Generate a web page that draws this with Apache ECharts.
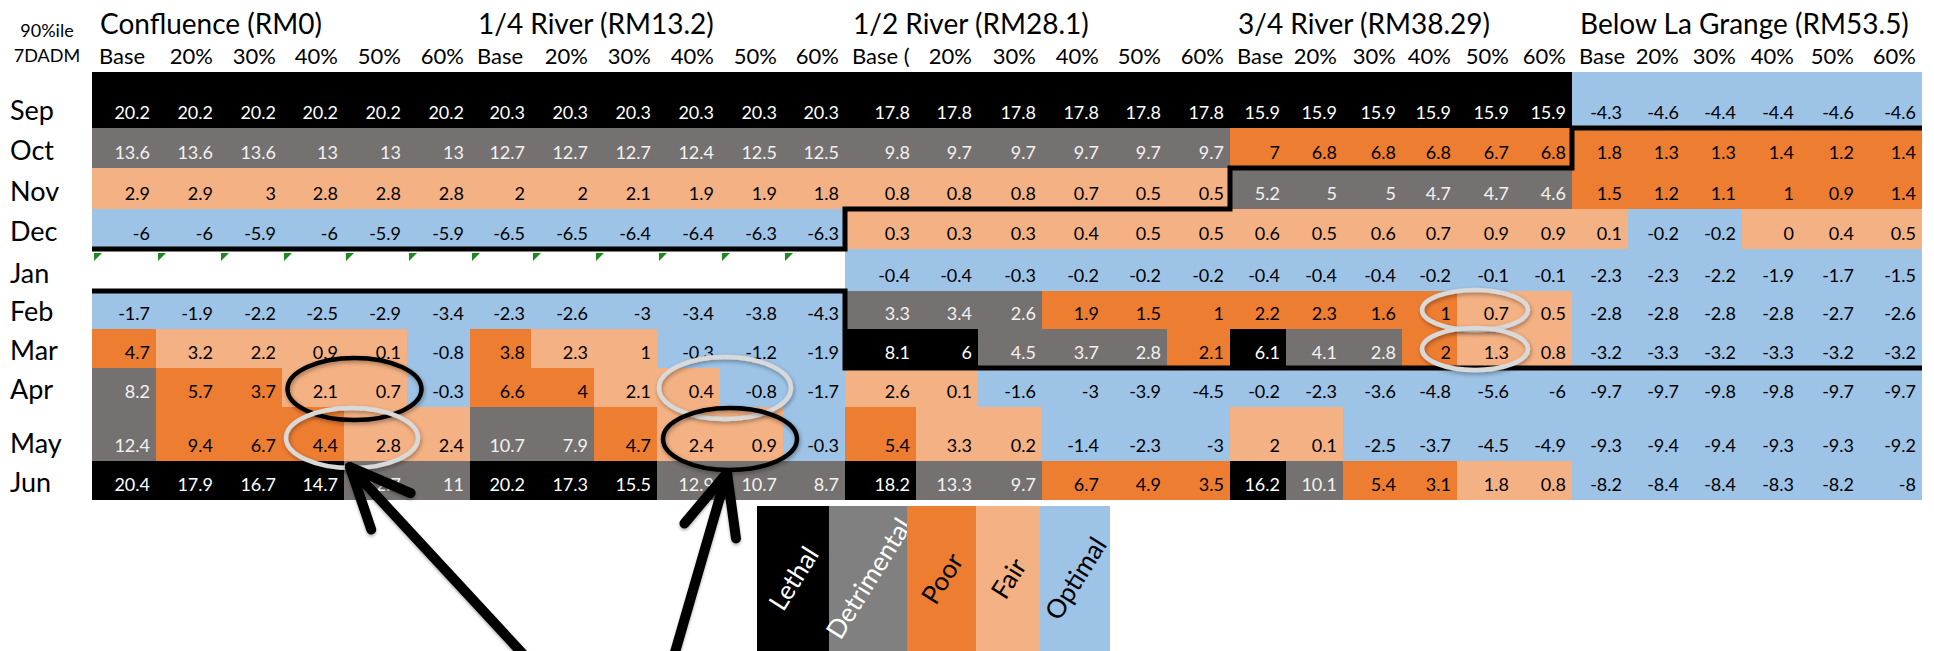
<!DOCTYPE html>
<html><head><meta charset="utf-8">
<script src="https://cdn.jsdelivr.net/npm/echarts@6/dist/echarts.min.js"></script>
<style>html,body{margin:0;padding:0;background:#fff}#chart{width:1934px;height:651px}</style>
</head><body><div id="chart"></div>
<script>
// ---------------- DATA ----------------
const months = ['Sep','Oct','Nov','Dec','Jan','Feb','Mar','Apr','May','Jun'];
const sites = ['Confluence (RM0)','1/4 River (RM13.2)','1/2 River (RM28.1)','3/4 River (RM38.29)','Below La Grange (RM53.5)'];
const scenarios = ['Base','20%','30%','40%','50%','60%'];
const baseHeader = ['Base','Base','Base (','Base','Base'];
const categories = ['Lethal','Detrimental','Poor','Fair','Optimal'];
const categoryKeys = ['L','D','P','F','O'];

// values: 5 sites x 6 scenarios per month
const sep = [20.2,20.2,20.2,20.2,20.2,20.2, 20.3,20.3,20.3,20.3,20.3,20.3, 17.8,17.8,17.8,17.8,17.8,17.8, 15.9,15.9,15.9,15.9,15.9,15.9, -4.3,-4.6,-4.4,-4.4,-4.6,-4.6];
const oct = [13.6,13.6,13.6,13,13,13, 12.7,12.7,12.7,12.4,12.5,12.5, 9.8,9.7,9.7,9.7,9.7,9.7, 7,6.8,6.8,6.8,6.7,6.8, 1.8,1.3,1.3,1.4,1.2,1.4];
const nov = [2.9,2.9,3,2.8,2.8,2.8, 2,2,2.1,1.9,1.9,1.8, 0.8,0.8,0.8,0.7,0.5,0.5, 5.2,5,5,4.7,4.7,4.6, 1.5,1.2,1.1,1,0.9,1.4];
const dec = [-6,-6,-5.9,-6,-5.9,-5.9, -6.5,-6.5,-6.4,-6.4,-6.3,-6.3, 0.3,0.3,0.3,0.4,0.5,0.5, 0.6,0.5,0.6,0.7,0.9,0.9, 0.1,-0.2,-0.2,0,0.4,0.5];
const jan = [null,null,null,null,null,null, null,null,null,null,null,null, -0.4,-0.4,-0.3,-0.2,-0.2,-0.2, -0.4,-0.4,-0.4,-0.2,-0.1,-0.1, -2.3,-2.3,-2.2,-1.9,-1.7,-1.5];
const feb = [-1.7,-1.9,-2.2,-2.5,-2.9,-3.4, -2.3,-2.6,-3,-3.4,-3.8,-4.3, 3.3,3.4,2.6,1.9,1.5,1, 2.2,2.3,1.6,1,0.7,0.5, -2.8,-2.8,-2.8,-2.8,-2.7,-2.6];
const mar = [4.7,3.2,2.2,0.9,0.1,-0.8, 3.8,2.3,1,-0.3,-1.2,-1.9, 8.1,6,4.5,3.7,2.8,2.1, 6.1,4.1,2.8,2,1.3,0.8, -3.2,-3.3,-3.2,-3.3,-3.2,-3.2];
const apr = [8.2,5.7,3.7,2.1,0.7,-0.3, 6.6,4,2.1,0.4,-0.8,-1.7, 2.6,0.1,-1.6,-3,-3.9,-4.5, -0.2,-2.3,-3.6,-4.8,-5.6,-6, -9.7,-9.7,-9.8,-9.8,-9.7,-9.7];
const may = [12.4,9.4,6.7,4.4,2.8,2.4, 10.7,7.9,4.7,2.4,0.9,-0.3, 5.4,3.3,0.2,-1.4,-2.3,-3, 2,0.1,-2.5,-3.7,-4.5,-4.9, -9.3,-9.4,-9.4,-9.3,-9.3,-9.2];
const jun = [20.4,17.9,16.7,14.7,12.7,11, 20.2,17.3,15.5,12.9,10.7,8.7, 18.2,13.3,9.7,6.7,4.9,3.5, 16.2,10.1,5.4,3.1,1.8,0.8, -8.2,-8.4,-8.4,-8.3,-8.2,-8];

// category of each cell (L=Lethal, D=Detrimental, P=Poor, F=Fair, O=Optimal, -=blank)
const catSep = 'LLLLLL LLLLLL LLLLLL LLLLLL OOOOOO';
const catOct = 'DDDDDD DDDDDD DDDDDD PPPPPP PPPPPP';
const catNov = 'FFFFFF FFFFFF FFFFFF DDDDDD PPPPPP';
const catDec = 'OOOOOO OOOOOO FFFFFF FFFFFF FOOFFF';
const catJan = '------ ------ OOOOOO OOOOOO OOOOOO';
const catFeb = 'OOOOOO OOOOOO DDDPPP PPPPFF OOOOOO';
const catMar = 'PFFFFO PFFOOO LLDDDP LDDPFF OOOOOO';
const catApr = 'DPPFFO PPFFOO FFOOOO OOOOOO OOOOOO';
const catMay = 'DPPPFF DDPFFO PFFOOO FFOOOO OOOOOO';
const catJun = 'LLLLDD LLLDDD LDDPPP LDPPFF OOOOOO';

// season boundaries: last row index above each thick line, per site
const fallBoundary = [3,3,2,1,0];
const springBoundary = [4,4,6,6,6];

// ---------------- LAYOUT / STYLE ----------------
const FONT = "Lato, 'Open Sans', sans-serif";
const colWidths = [64,63,63,62,63,63, 61,63,63,63,63,62, 71,62,64,63,62,63, 56,57,59,55,58,57, 56,57,57,58,60,62];
const rowHeights = [56,40,41,40,42,38,39,39,54,39];
const cellColor = {L:'#000000', D:'#767171', P:'#ED7D31', F:'#F4B183', O:'#9DC3E6'};
const legendColor = {L:'#000000', D:'#808080', P:'#ED7D31', F:'#F4B183', O:'#9DC3E6'};
const legendWidths = [72,78,69,64,70];
// annotation rings: row, first col, last col, colour, offsets
const rings = [
  {r:7, c0:3, c1:4, color:'#000000', dx:10, dy:1.5, rx:67, ry:31},
  {r:8, c0:3, c1:4, color:'#D9D9D9', dx:7.5, dy:4, rx:66, ry:30},
  {r:7, c0:9, c1:10, color:'#D9D9D9', dx:5, dy:0.5, rx:66, ry:31},
  {r:8, c0:9, c1:10, color:'#000000', dx:10, dy:5, rx:67, ry:31},
  {r:5, c0:21, c1:22, color:'#D9D9D9', dx:16.5, dy:0, rx:53, ry:20},
  {r:6, c0:21, c1:22, color:'#D9D9D9', dx:16.5, dy:0.5, rx:53, ry:21}
];
const arrows = [
  {ring:1, tipDx:-2, tipDy:-1, dx:185, dy:200},
  {ring:3, tipDx:-3, tipDy:3, dx:-58, dy:200}
];

const monthValues = [sep,oct,nov,dec,jan,feb,mar,apr,may,jun];
const monthCats = [catSep,catOct,catNov,catDec,catJan,catFeb,catMar,catApr,catMay,catJun].map(s=>s.replace(/\s/g,''));
const colEdges = [0]; colWidths.forEach(w=>colEdges.push(colEdges[colEdges.length-1]+w));
const rowEdges = [0]; rowHeights.forEach(h=>rowEdges.push(rowEdges[rowEdges.length-1]+h));
const totalW = colEdges[colEdges.length-1], totalH = rowEdges[rowEdges.length-1];

const cells = [];
monthValues.forEach((vals, r) => {
  vals.forEach((v, c) => {
    const k = monthCats[r][c];
    cells.push({r, c, v, cat: k === '-' ? null : k});
  });
});

function renderCell(params, api) {
  const d = cells[params.dataIndex];
  const p0 = api.coord([colEdges[d.c], rowEdges[d.r]]);
  const p1 = api.coord([colEdges[d.c+1], rowEdges[d.r+1]]);
  const ch = [];
  if (d.cat) ch.push({type:'rect', shape:{x:p0[0], y:p0[1], width:p1[0]-p0[0], height:p1[1]-p0[1]}, style:{fill:cellColor[d.cat]}});
  if (d.v !== null) {
    const fill = d.cat === 'L' ? '#ffffff' : (d.cat === 'D' ? '#f2f2f2' : '#000000');
    ch.push({type:'text', style:{text:String(d.v), x:p1[0]-6, y:p1[1]-16, align:'right', verticalAlign:'middle', fill, fontSize:18, fontFamily:FONT}});
  } else {
    ch.push({type:'polygon', shape:{points:[[p0[0]+2,p0[1]+4],[p0[0]+10,p0[1]+4],[p0[0]+2,p0[1]+12]]}, style:{fill:'#1D8A1D'}});
  }
  return {type:'group', children:ch};
}

function boundaryPoints(api, rowsArr) {
  const pts = [];
  rowsArr.forEach((ri, s) => {
    const y = rowEdges[ri+1];
    pts.push(api.coord([colEdges[s*6], y]));
    pts.push(api.coord([colEdges[s*6+6], y]));
  });
  return pts;
}
function renderBorders(params, api) {
  const st = {stroke:'#000', lineWidth:5, fill:null, lineJoin:'miter'};
  return {type:'group', children:[
    {type:'polyline', shape:{points:boundaryPoints(api, fallBoundary)}, style:st},
    {type:'polyline', shape:{points:boundaryPoints(api, springBoundary)}, style:st}
  ]};
}
function renderMonth(params, api) {
  const i = params.dataIndex;
  const p = api.coord([0, rowEdges[i+1]]);
  return {type:'text', style:{text:months[i], x:p[0]-82, y:p[1]-18.5, align:'left', verticalAlign:'middle', fill:'#000', fontSize:27, fontFamily:FONT}};
}
function renderColLabel(params, api) {
  const c = params.dataIndex, s = Math.floor(c/6), k = c%6;
  const p0 = api.coord([colEdges[c], 0]), p1 = api.coord([colEdges[c+1], 0]);
  const isBase = k === 0;
  return {type:'text', style:{text: isBase ? baseHeader[s] : scenarios[k], x: isBase ? p0[0]+7 : p1[0]-6, y: p0[1]-17,
    align: isBase ? 'left' : 'right', verticalAlign:'middle', fill:'#000', fontSize:22, fontFamily:FONT}};
}
function renderSite(params, api) {
  const s = params.dataIndex;
  const p = api.coord([colEdges[s*6], 0]);
  return {type:'text', style:{text:sites[s], x:p[0]+8, y:p[1]-49, align:'left', verticalAlign:'middle', fill:'#000', fontSize:28, fontFamily:FONT}};
}
function ringGeom(g, api) {
  const p0 = api.coord([colEdges[g.c0], rowEdges[g.r]]);
  const p1 = api.coord([colEdges[g.c1+1], rowEdges[g.r+1]]);
  return {cx:(p0[0]+p1[0])/2 + g.dx, cy:(p0[1]+p1[1])/2 + g.dy, rx:g.rx, ry:g.ry};
}
function renderRing(params, api) {
  const g = rings[params.dataIndex];
  const e = ringGeom(g, api);
  return {type:'ellipse', shape:e, style:{fill:null, stroke:g.color, lineWidth:4.5, shadowBlur:4, shadowOffsetX:1, shadowOffsetY:2, shadowColor:'rgba(0,0,0,0.35)'}};
}
function renderArrow(params, api) {
  const a = arrows[params.dataIndex];
  const e = ringGeom(rings[a.ring], api);
  const tip = [e.cx + a.tipDx, e.cy + e.ry + a.tipDy];
  const tail = [tip[0] + a.dx, tip[1] + a.dy];
  const len = Math.hypot(a.dx, a.dy), ux = a.dx/len, uy = a.dy/len;
  const ang = 24*Math.PI/180, L = 66;
  const rot = (t) => [tip[0] + L*(ux*Math.cos(t) - uy*Math.sin(t)), tip[1] + L*(ux*Math.sin(t) + uy*Math.cos(t))];
  const st = {stroke:'#000', lineWidth:10, fill:null, lineCap:'round', lineJoin:'round', shadowBlur:3, shadowOffsetY:2, shadowColor:'rgba(0,0,0,0.3)'};
  return {type:'group', children:[
    {type:'polyline', shape:{points:[tip, tail]}, style:st},
    {type:'polyline', shape:{points:[rot(ang), tip, rot(-ang)]}, style:st}
  ]};
}
const legendLeft = 665, legendTop = 434, legendHeight = 170;
function renderLegend(params, api) {
  const i = params.dataIndex;
  let x0 = legendLeft; for (let j=0;j<i;j++) x0 += legendWidths[j];
  const p0 = api.coord([x0, legendTop]);
  const p1 = api.coord([x0 + legendWidths[i], legendTop + legendHeight]);
  const k = categoryKeys[i];
  const cx = (p0[0]+p1[0])/2, cy = p0[1] + 72;
  return {type:'group', children:[
    {type:'rect', shape:{x:p0[0], y:p0[1], width:p1[0]-p0[0], height:p1[1]-p0[1]}, style:{fill:legendColor[k]}},
    {type:'text', x:cx, y:cy, rotation:58*Math.PI/180, style:{text:categories[i], x:0, y:0, align:'center', verticalAlign:'middle',
      fill: (k==='L'||k==='D') ? '#ffffff' : '#000000', fontSize:26, fontFamily:FONT}}
  ]};
}

const chart = echarts.init(document.getElementById('chart'), null, {renderer:'svg'});
const one = [[0,0]];
chart.setOption({
  animation:false,
  backgroundColor:'#ffffff',
  grid:{left:92, top:72, width:totalW, height:totalH, containLabel:false},
  xAxis:{type:'value', min:0, max:totalW, show:false},
  yAxis:{type:'value', min:0, max:totalH, inverse:true, show:false},
  graphic:[
    {type:'text', x:47, y:30, style:{text:'90%ile', align:'center', verticalAlign:'middle', fill:'#000', fontSize:18, fontFamily:FONT}},
    {type:'text', x:47, y:55, style:{text:'7DADM', align:'center', verticalAlign:'middle', fill:'#000', fontSize:18, fontFamily:FONT}}
  ],
  series:[
    {type:'custom', name:'cells', coordinateSystem:'cartesian2d', clip:false, silent:true, z:1,
     data: cells.map(d => [(colEdges[d.c]+colEdges[d.c+1])/2, (rowEdges[d.r]+rowEdges[d.r+1])/2]), renderItem:renderCell},
    {type:'custom', name:'borders', coordinateSystem:'cartesian2d', clip:false, silent:true, z:3, data:one, renderItem:renderBorders},
    {type:'custom', name:'months', coordinateSystem:'cartesian2d', clip:false, silent:true, z:2,
     data: months.map((m,i)=>[0,(rowEdges[i]+rowEdges[i+1])/2]), renderItem:renderMonth},
    {type:'custom', name:'scenarios', coordinateSystem:'cartesian2d', clip:false, silent:true, z:2,
     data: colWidths.map((w,c)=>[(colEdges[c]+colEdges[c+1])/2, 0]), renderItem:renderColLabel},
    {type:'custom', name:'sites', coordinateSystem:'cartesian2d', clip:false, silent:true, z:2,
     data: sites.map((s,i)=>[colEdges[i*6], 0]), renderItem:renderSite},
    {type:'custom', name:'legend', coordinateSystem:'cartesian2d', clip:false, silent:true, z:2,
     data: categories.map((c,i)=>[legendLeft, legendTop]), renderItem:renderLegend},
    {type:'custom', name:'rings', coordinateSystem:'cartesian2d', clip:false, silent:true, z:5,
     data: rings.map(g=>[colEdges[g.c0], rowEdges[g.r]]), renderItem:renderRing},
    {type:'custom', name:'arrows', coordinateSystem:'cartesian2d', clip:false, silent:true, z:6,
     data: arrows.map(a=>[0,0]), renderItem:renderArrow}
  ]
});
</script></body></html>
